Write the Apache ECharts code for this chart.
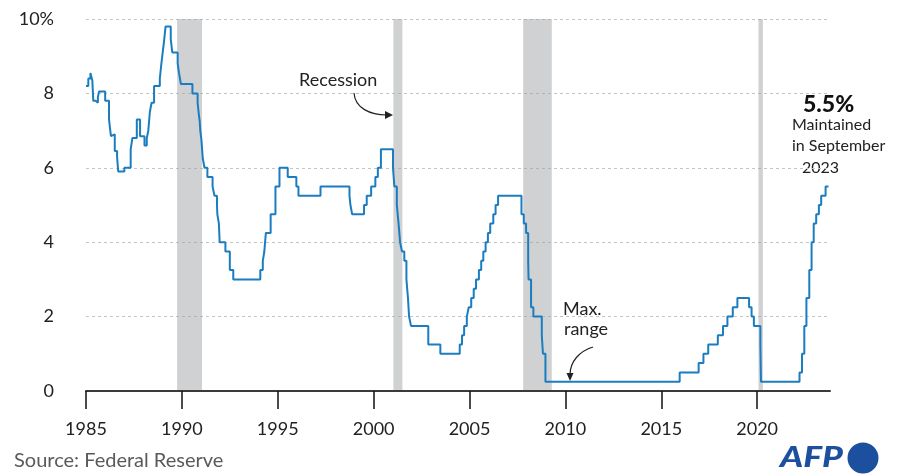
<!DOCTYPE html>
<html>
<head>
<meta charset="utf-8">
<script src="https://cdn.jsdelivr.net/npm/echarts@6/dist/echarts.min.js"></script>
<style>
html,body{margin:0;padding:0;background:#fff;}
#chart{width:911px;height:476px;}
</style>
</head>
<body>
<div id="chart"></div>
<script>
// Fed funds rate (upper bound), step start dates (decimal years)
const stepYears = [
  1985.00,1985.12,1985.23,1985.33,1985.38,1985.50,1985.62,1985.68,
  1986.00,1986.20,1986.30,1986.40,1986.50,1986.62,1986.68,
  1987.00,1987.33,1987.42,1987.65,1987.82,
  1988.05,1988.17,1988.25,1988.33,1988.42,1988.55,1988.85,1988.92,
  1989.00,1989.07,1989.15,1989.42,1989.50,1989.78,1989.85,1989.95,
  1990.55,1990.82,1990.87,1990.93,1990.96,
  1991.02,1991.09,1991.18,1991.33,1991.60,1991.70,1991.83,1991.85,1991.93,1991.97,
  1992.27,1992.50,1992.68,
  1994.09,1994.22,1994.30,1994.38,1994.63,1994.88,
  1995.09,1995.52,1995.97,1996.08,1997.23,
  1998.74,1998.79,1998.88,1999.50,1999.64,1999.87,
  2000.09,2000.22,2000.38,
  2001.01,2001.08,2001.21,2001.30,2001.38,2001.48,2001.60,2001.71,2001.79,2001.85,2001.95,
  2002.85,2003.48,
  2004.49,2004.61,2004.72,2004.86,2004.96,
  2005.09,2005.22,2005.34,2005.49,2005.61,2005.72,2005.84,2005.96,
  2006.08,2006.24,2006.36,2006.49,
  2007.71,2007.83,2007.95,
  2008.06,2008.08,2008.21,2008.33,2008.77,2008.83,2008.96,
  2015.96,2016.95,2017.20,2017.45,2017.95,
  2018.22,2018.45,2018.73,2018.97,
  2019.58,2019.71,2019.83,2020.17,2020.20,
  2022.21,2022.34,2022.46,2022.57,2022.72,2022.84,2022.95,
  2023.08,2023.22,2023.34,2023.57,2023.72
];
const rates = [
  8.2,8.4,8.55,8.35,7.8,7.75,7.9,8.05,
  7.8,7.3,6.85,6.9,6.45,6.3,5.9,
  6.0,6.5,6.8,7.3,6.85,
  6.6,6.8,7.0,7.5,7.75,8.2,8.4,8.75,
  9.1,9.4,9.8,9.45,9.1,8.8,8.55,8.25,
  8.0,7.75,7.5,7.25,7.0,
  6.75,6.25,6.0,5.75,5.5,5.25,5.0,4.75,4.5,4.0,
  3.75,3.25,3.0,
  3.25,3.5,3.75,4.25,4.75,5.5,
  6.0,5.75,5.5,5.25,5.5,
  5.25,5.0,4.75,5.0,5.25,5.5,
  5.75,6.0,6.5,
  6.0,5.5,5.0,4.5,4.0,3.75,3.5,3.0,2.5,2.0,1.75,
  1.25,1.0,
  1.25,1.5,1.75,2.0,2.25,
  2.5,2.75,3.0,3.25,3.5,3.75,4.0,4.25,
  4.5,4.75,5.0,5.25,
  4.75,4.5,4.25,
  3.5,3.0,2.25,2.0,1.5,1.0,0.25,
  0.5,0.75,1.0,1.25,1.5,
  1.75,2.0,2.25,2.5,
  2.25,2.0,1.75,1.25,0.25,
  0.5,1.0,1.75,2.5,3.25,4.0,4.5,
  4.75,5.0,5.25,5.5,5.5
];
// Recession periods shown as grey bands (start, end)
const recessionStarts = [1989.75, 2001.03, 2007.80, 2020.07];
const recessionEnds   = [1991.05, 2001.50, 2009.29, 2020.30];
const xTickYears = [1985, 1990, 1995, 2000, 2005, 2010, 2015, 2020];
const yTicks = [0, 2, 4, 6, 8, 10];

const FONT = 'Lato';
const lineData = stepYears.map((y, i) => [y, rates[i]]);
const bands = recessionStarts.map((s, i) => [
  { xAxis: s, yAxis: 0 },
  { xAxis: recessionEnds[i], yAxis: 10.06 }
]);

const chart = echarts.init(document.getElementById('chart'), null, { renderer: 'canvas' });
chart.setOption({
  animation: false,
  backgroundColor: '#ffffff',
  textStyle: { fontFamily: FONT },
  grid: { left: 86, right: 81, top: 19, bottom: 85 },
  xAxis: {
    type: 'value',
    min: 1985, max: 2023.8,
    interval: 5,
    z: 10,
    axisLine: { show: true, lineStyle: { color: '#3a3a3a', width: 2 } },
    axisTick: { show: true, length: 18, customValues: xTickYears, lineStyle: { color: '#111', width: 1.5 } },
    axisLabel: { customValues: xTickYears, margin: 29, fontSize: 18, color: '#222', fontFamily: FONT, formatter: v => String(v) },
    splitLine: { show: false }
  },
  yAxis: {
    type: 'value',
    min: 0, max: 10, interval: 2,
    axisLine: { show: false },
    axisTick: { show: false },
    axisLabel: {
      margin: 32, fontSize: 18, color: '#222', fontFamily: FONT,
      customValues: yTicks,
      formatter: v => (v === 10 ? '10%' : String(v))
    },
    splitLine: { show: true, lineStyle: { color: '#c4c4c4', width: 1, type: [3, 3] } }
  },
  series: [
    {
      type: 'line',
      data: [],
      z: 1,
      silent: true,
      clip: false,
      markArea: {
        silent: true,
        itemStyle: { color: 'rgba(160,163,168,0.5)' },
        data: bands
      }
    },
    {
      type: 'line',
      step: 'end',
      data: lineData,
      z: 3,
      showSymbol: false,
      symbol: 'none',
      silent: true,
      lineStyle: { color: '#1b7dc0', width: 2 }
    }
  ],
  graphic: [
    { type: 'text', left: 299, top: 71, style: { text: 'Recession', fill: '#222', font: '18px ' + FONT } },
    { type: 'bezierCurve', shape: { x1: 354, y1: 93, cpx1: 355, cpy1: 108, cpx2: 370, cpy2: 115, x2: 387, y2: 115 },
      style: { stroke: '#222', lineWidth: 1.2, fill: null } },
    { type: 'polygon', shape: { points: [[393, 115], [385, 111], [385, 119]] }, style: { fill: '#222' } },

    { type: 'text', left: 563, top: 300, style: { text: 'Max.', fill: '#222', font: '18px ' + FONT } },
    { type: 'text', left: 564, top: 320, style: { text: 'range', fill: '#222', font: '18px ' + FONT } },
    { type: 'bezierCurve', shape: { x1: 593, y1: 347, cpx1: 580, cpy1: 351, cpx2: 570, cpy2: 361, x2: 570, y2: 375 },
      style: { stroke: '#222', lineWidth: 1.2, fill: null } },
    { type: 'polygon', shape: { points: [[570, 381], [566.5, 373], [573.5, 373]] }, style: { fill: '#222' } },

    { type: 'text', left: 803, top: 93, style: { text: '5.5%', fill: '#111', font: '900 23px ' + FONT } },
    { type: 'text', left: 792, top: 117, style: { text: 'Maintained', fill: '#222', font: '16px ' + FONT } },
    { type: 'text', left: 792, top: 138, style: { text: 'in September', fill: '#222', font: '16px ' + FONT } },
    { type: 'text', left: 802, top: 160, style: { text: '2023', fill: '#222', font: '16px ' + FONT } },

    { type: 'text', left: 14, top: 451, style: { text: 'Source: Federal Reserve', fill: '#5a5a5a', font: '20px ' + FONT } },
    { type: 'text', x: 780, y: 443, scaleX: 1.22, style: { text: 'AFP', fill: '#1d4f9f', font: 'italic 900 29px ' + FONT } },
    { type: 'circle', shape: { cx: 863, cy: 458, r: 15.5 }, style: { fill: '#1d4f9f' } }
  ]
});
</script>
</body>
</html>
